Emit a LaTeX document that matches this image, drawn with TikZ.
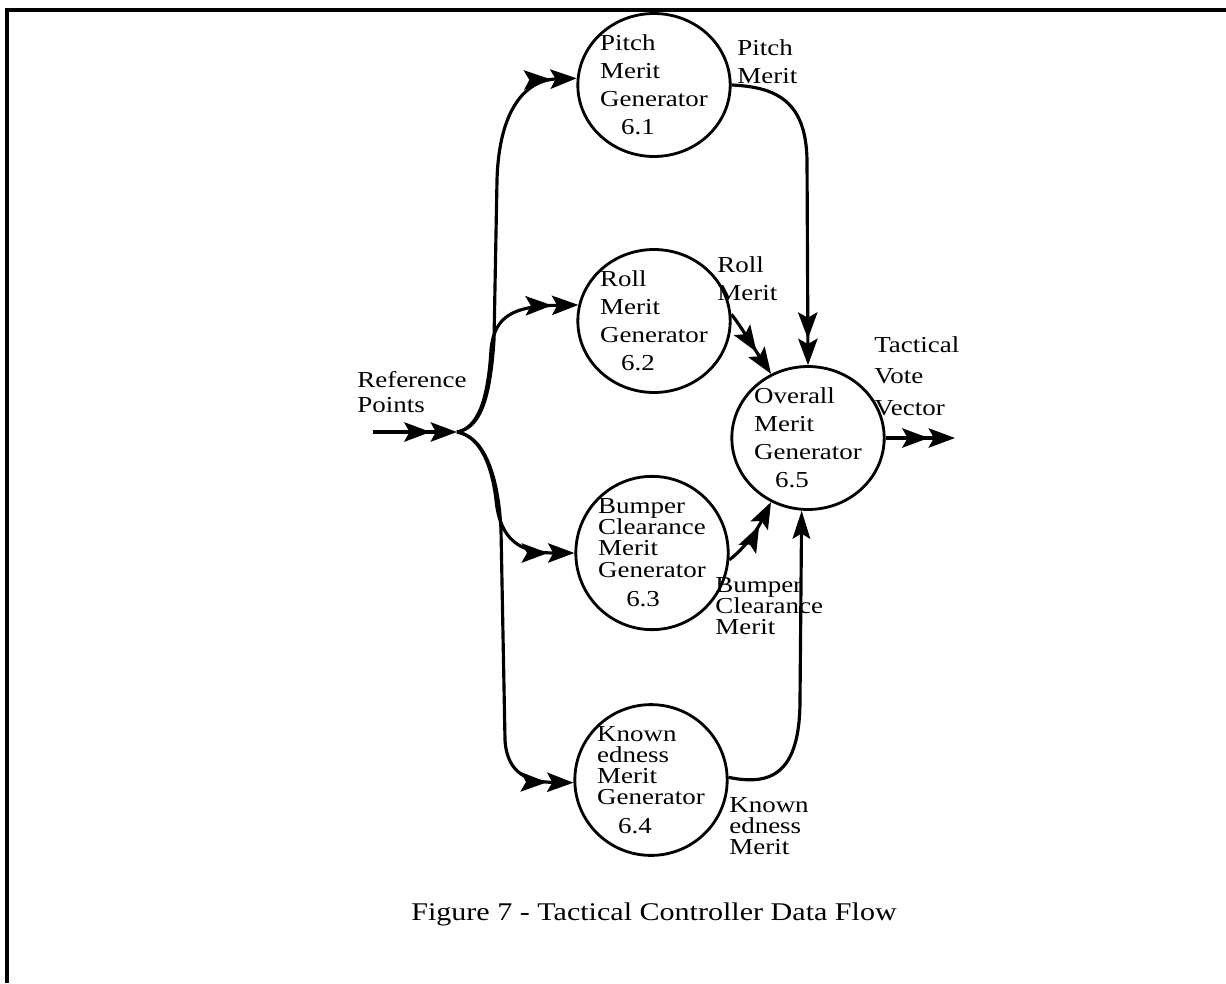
\documentclass[tikz,border=0pt]{standalone}
\usepackage{fontspec}
\setmainfont{Liberation Serif}[FakeStretch=1.18]
\usetikzlibrary{arrows.meta,shapes.geometric}
\begin{document}
\begin{tikzpicture}[x=0.02cm,y=-0.02cm,
    every node/.style={font=\fontsize{13}{16}\selectfont},
    bubble/.style={draw,ellipse,line width=1.6pt,inner sep=0pt,minimum width=2.62cm,minimum height=2.86cm,align=left},
    tag/.style={anchor=north west,inner sep=0pt,align=left},
    flow/.style={line width=1.8pt,-{Stealth[length=15pt,width=11pt,inset=3pt]Stealth[length=15pt,width=11pt,inset=3pt]}},
    flowone/.style={line width=1.8pt,-{Stealth[length=16pt,width=10pt,inset=3pt]}}]
    \useasboundingbox (0,0) rectangle (1226,983);
    \draw[line width=2.2pt] (7,983) -- (7,10) -- (1226,10);

    \node[bubble] (pitch) at (654,85) {Pitch\\Merit\\Generator\\\hspace*{12pt}6.1};
    \node[bubble] (roll) at (654,321) {Roll\\Merit\\Generator\\\hspace*{12pt}6.2};
    \node[bubble] (bumper) at (652,553) {Bumper\\[-4pt]Clearance\\[-4pt]Merit\\[-4pt]Generator\\[1pt]\hspace*{16pt}6.3};
    \node[bubble] (known) at (651,780) {Known\\[-4pt]edness\\[-4pt]Merit\\[-4pt]Generator\\\hspace*{12pt}6.4};
    \node[bubble] (overall) at (808,438) {Overall\\Merit\\Generator\\\hspace*{12pt}6.5};

    \node[tag] (refpts) at (357,371) {Reference\\[-2pt]Points};
    \node[tag] (pitchout) at (737,39) {Pitch\\Merit};
    \node[tag] (rollout) at (717,256) {Roll\\Merit};
    \node[tag] (bumperout) at (715,577) {Bumper\\[-4pt]Clearance\\[-4pt]Merit};
    \node[tag] (knownout) at (729,797) {Known\\[-4pt]edness\\[-4pt]Merit};
    \node[tag] (vote) at (874,336) {Tactical\\[2pt]Vote\\[2pt]Vector};
    \node[anchor=base,font=\fontsize{14.5}{17}\selectfont] (caption) at (654,920) {Figure 7 - Tactical Controller Data Flow};

    \coordinate (refin) at (373,432);
    \coordinate (fork) at (457,432);
    \coordinate (voteout) at (955,438);

    \draw[flow] (refin) -- (fork);
    \draw[flow] (fork) .. controls (480,428) and (490,400) .. (494,340) -- (497,180) .. controls (499,110) and (525,80) .. (pitch.175);
    \draw[flow] (fork) .. controls (478,428) and (488,400) .. (491,350) .. controls (494,315) and (515,306) .. (roll.168);
    \draw[flow] (fork) .. controls (480,436) and (492,465) .. (496,500) .. controls (500,540) and (520,553) .. (bumper.west);
    \draw[flow] (fork) .. controls (482,436) and (498,470) .. (501,530) -- (505,740) .. controls (507,775) and (530,782) .. (known.182);
    \draw[flow] (pitch.east) .. controls (775,87) and (806,100) .. (807,160) -- (overall.north);
    \draw[flow] (roll.5) .. controls (738,322) and (752,345) .. (overall.120);
    \draw[flow] (bumper.355) .. controls (735,556) and (752,540) .. (overall.240);
    \draw[flowone] (known.2) .. controls (770,786) and (800,775) .. (800,700) -- (overall.265);
    \draw[flow] (overall.east) -- (voteout);
\end{tikzpicture}
\end{document}
